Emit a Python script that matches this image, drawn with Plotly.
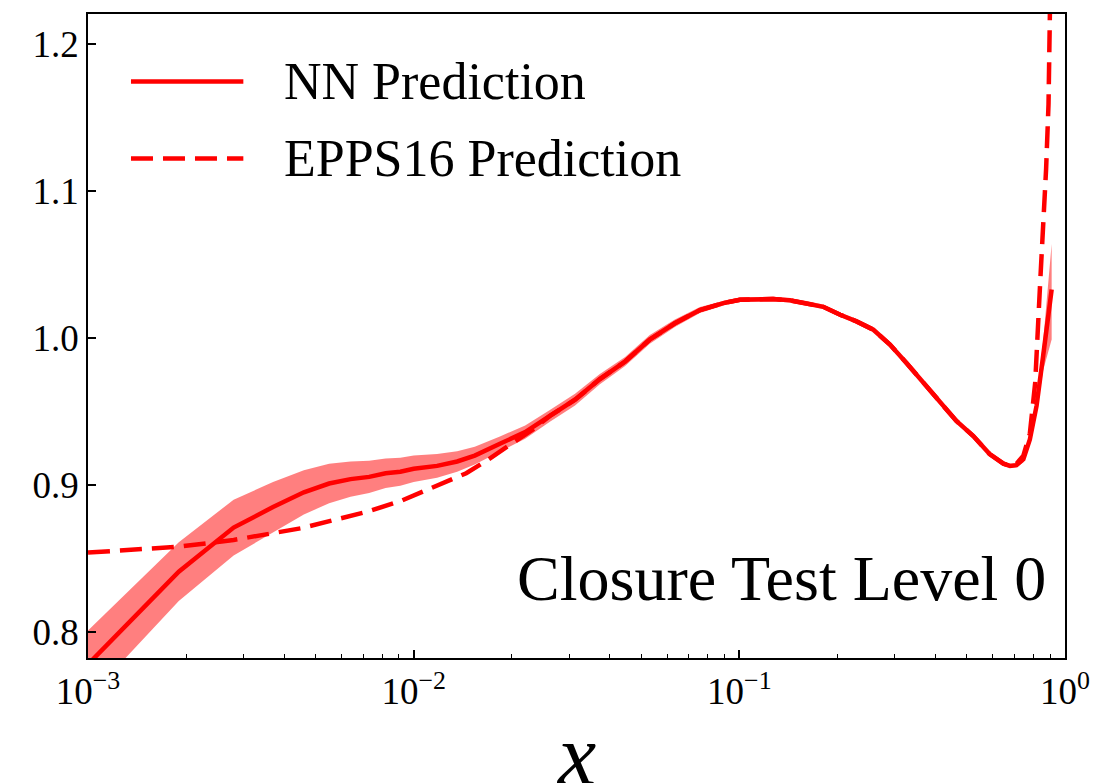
import plotly.graph_objects as go

# ---- data ----
x_nn = [0.001, 0.0019, 0.0028, 0.0037, 0.0046, 0.0055, 0.0064, 0.0073, 0.0082, 0.0091,
        0.010, 0.0118, 0.0136, 0.0154, 0.0184, 0.022, 0.0262, 0.0313, 0.0373, 0.0446,
        0.0531, 0.0634, 0.0757, 0.0904, 0.1004, 0.113, 0.127, 0.143, 0.161, 0.181,
        0.204, 0.229, 0.258, 0.290, 0.326, 0.367, 0.413, 0.464, 0.523, 0.587,
        0.647, 0.678, 0.71, 0.745, 0.78, 0.818, 0.857, 0.91]
nn = [0.778, 0.841, 0.871, 0.885, 0.895, 0.901, 0.904, 0.9055, 0.908, 0.909,
      0.911, 0.913, 0.916, 0.920, 0.928, 0.936, 0.947, 0.958, 0.972, 0.984,
      0.999, 1.010, 1.019, 1.024, 1.026, 1.0265, 1.0265, 1.0256, 1.0237, 1.0212,
      1.0158, 1.0113, 1.0056, 0.9955, 0.983, 0.9695, 0.956, 0.9435, 0.9333, 0.921,
      0.9145, 0.913, 0.9135, 0.9175, 0.931, 0.954, 0.988, 1.033]
nn_hi = [0.801, 0.861, 0.890, 0.902, 0.910, 0.9145, 0.916, 0.9165, 0.918, 0.9185,
         0.920, 0.921, 0.923, 0.926, 0.933, 0.9405, 0.951, 0.962, 0.9755, 0.987,
         1.002, 1.0125, 1.021, 1.0255, 1.0275, 1.028, 1.028, 1.0271, 1.0252, 1.0227,
         1.0173, 1.0128, 1.0071, 0.997, 0.9845, 0.971, 0.9575, 0.945, 0.9348, 0.9225,
         0.916, 0.9145, 0.915, 0.9195, 0.934, 0.959, 0.998, 1.064]
nn_lo = [0.755, 0.821, 0.852, 0.868, 0.880, 0.8875, 0.892, 0.8945, 0.898, 0.8995,
         0.902, 0.905, 0.909, 0.914, 0.923, 0.9315, 0.943, 0.954, 0.9685, 0.981,
         0.996, 1.0075, 1.017, 1.0225, 1.0245, 1.025, 1.025, 1.0241, 1.0222, 1.0197,
         1.0143, 1.0098, 1.0041, 0.994, 0.9815, 0.968, 0.9545, 0.942, 0.9318, 0.9195,
         0.913, 0.9115, 0.912, 0.9155, 0.928, 0.949, 0.978, 0.999]

x_epps = [0.001, 0.00138, 0.0019, 0.0028, 0.0037, 0.0045, 0.0057, 0.0072, 0.0091, 0.0113,
          0.0129, 0.0145, 0.0166, 0.0193, 0.0233, 0.0262, 0.0313, 0.0373, 0.0446, 0.0531,
          0.0634, 0.0757, 0.0904, 0.1004, 0.113, 0.127, 0.143, 0.161, 0.181, 0.204,
          0.229, 0.258, 0.290, 0.326, 0.367, 0.413, 0.464, 0.523, 0.587, 0.647,
          0.678, 0.71, 0.745, 0.78, 0.81, 0.84, 0.857, 0.875, 0.89, 0.90, 0.91]
epps = [0.854, 0.8563, 0.858, 0.8626, 0.867, 0.8705, 0.8762, 0.8818, 0.889, 0.8975,
        0.9030, 0.908, 0.916, 0.926, 0.938, 0.947, 0.958, 0.972, 0.984, 0.999,
        1.010, 1.019, 1.024, 1.026, 1.0265, 1.0265, 1.0256, 1.0237, 1.0212, 1.0158,
        1.0113, 1.0056, 0.9955, 0.983, 0.9695, 0.956, 0.9435, 0.9333, 0.921, 0.9145,
        0.913, 0.9145, 0.920, 0.935, 0.9695, 1.040, 1.071, 1.115, 1.159, 1.218, 1.300]

x_tickvals = [0.001, 0.01, 0.1, 1]
x_ticktext = ["10<sup>−3</sup>", "10<sup>−2</sup>", "10<sup>−1</sup>", "10<sup>0</sup>"]
y_tickvals = [0.8, 0.9, 1.0, 1.1, 1.2]
y_ticktext = ["0.8", "0.9", "1.0", "1.1", "1.2"]

legend_labels = ["NN Prediction", "EPPS16 Prediction"]
annotation_text = "Closure Test Level 0"

RED = "#ff0000"
BAND = "rgba(255,0,0,0.5)"
FONT = "Liberation Serif"
DASH = "22px,10px"
LW = 4.5

fig = go.Figure()
fig.add_trace(go.Scatter(x=x_nn, y=nn_hi, mode="lines", line=dict(width=0),
                         showlegend=False, hoverinfo="skip"))
fig.add_trace(go.Scatter(x=x_nn, y=nn_lo, mode="lines", line=dict(width=0),
                         fill="tonexty", fillcolor=BAND, showlegend=False, hoverinfo="skip"))
fig.add_trace(go.Scatter(x=x_nn, y=nn, mode="lines", line=dict(color=RED, width=LW),
                         name=legend_labels[0], showlegend=False))
fig.add_trace(go.Scatter(x=x_epps, y=epps, mode="lines",
                         line=dict(color=RED, width=LW, dash=DASH),
                         name=legend_labels[1], showlegend=False))

# manual legend (samples in axis-domain coordinates)
leg_rows = [(0.895, "solid"), (0.7755, DASH)]
for (yy, dash), lab in zip(leg_rows, legend_labels):
    fig.add_shape(type="line", xref="x domain", yref="y domain",
                  x0=0.044, x1=0.159, y0=yy, y1=yy,
                  line=dict(color=RED, width=LW, dash=dash))
    fig.add_annotation(xref="x domain", yref="y domain", x=0.199, y=yy,
                       text=lab, showarrow=False, xanchor="left", yanchor="middle",
                       font=dict(family=FONT, size=52, color="black"))

fig.add_annotation(xref="x domain", yref="y domain", x=0.9826, y=0.124,
                   text=annotation_text, showarrow=False, xanchor="right", yanchor="middle",
                   font=dict(family=FONT, size=64, color="black"))

# x axis title
fig.add_annotation(xref="paper", yref="paper", x=0.499, y=-0.150,
                   text="<i>x</i>", showarrow=False, xanchor="center", yanchor="middle",
                   font=dict(family=FONT, size=86, color="black"))

axis_common = dict(showline=True, linecolor="black", linewidth=1.5, mirror=True,
                   showgrid=False, zeroline=False, ticks="inside", tickcolor="black",
                   tickwidth=1.5, ticklen=8,
                   tickfont=dict(family=FONT, size=37, color="black"))

fig.update_xaxes(type="log", range=[-3, 0], tickvals=x_tickvals, ticktext=x_ticktext,
                 minor=dict(ticks="inside", ticklen=4, tickwidth=1.2, tickcolor="black",
                            dtick="D1", showgrid=False),
                 **axis_common)
fig.update_yaxes(range=[0.7823, 1.2204], tickvals=y_tickvals, ticktext=y_ticktext,
                 **axis_common)

# the page adds an 8px body margin, so the figure is 8px smaller than the window
fig.update_layout(width=1103, height=775, margin=dict(l=80, r=46, t=4, b=125),
                  plot_bgcolor="white", paper_bgcolor="white", showlegend=False,
                  font=dict(family=FONT, color="black"))

fig.write_html("out.html")
